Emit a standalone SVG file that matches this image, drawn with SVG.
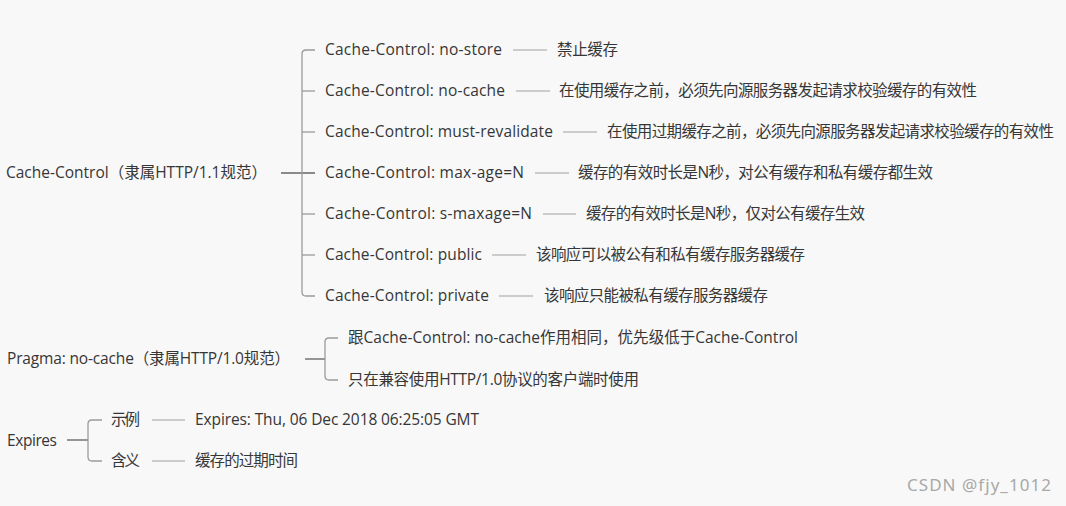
<svg xmlns="http://www.w3.org/2000/svg" width="1066" height="506" viewBox="0 0 1066 506">
<style>
text{font-family:"Open Sans","Noto Sans CJK SC",sans-serif;font-size:15.5px;fill:#363636;}
.wm{font-family:"Noto Sans","Open Sans",sans-serif;font-size:17px;fill:#a8a8a8;}
.br{fill:none;stroke:#9a9a9a;stroke-width:1.3;}
.dash{stroke:#a0a0a0;stroke-width:1;}
.main{stroke:#8a8a8a;stroke-width:1.8;}
</style>
<rect width="1066" height="506" fill="#f8f8f8"/>
<g id="connectors">
  <line class="main" x1="281" y1="173" x2="315" y2="173"/>
  <path class="br" d="M315 50 H306 Q302 50 302 54 V292 Q302 296 306 296 H315"/>
  <line class="br" x1="302" y1="91" x2="315" y2="91"/>
  <line class="br" x1="302" y1="132" x2="315" y2="132"/>
  <line class="br" x1="302" y1="214" x2="315" y2="214"/>
  <line class="br" x1="302" y1="255" x2="315" y2="255"/>
  <line class="dash" x1="513" y1="50" x2="547" y2="50"/>
  <line class="dash" x1="516" y1="91" x2="550" y2="91"/>
  <line class="dash" x1="563" y1="132" x2="597" y2="132"/>
  <line class="dash" x1="535" y1="173" x2="569" y2="173"/>
  <line class="dash" x1="543" y1="214" x2="576" y2="214"/>
  <line class="dash" x1="492" y1="255" x2="526" y2="255"/>
  <line class="dash" x1="499" y1="296" x2="533" y2="296"/>
  <line class="main" x1="305" y1="359" x2="325" y2="359"/>
  <path class="br" d="M338 338 H329 Q325 338 325 342 V376 Q325 380 329 380 H338"/>
  <line class="main" x1="67" y1="440" x2="88" y2="440"/>
  <path class="br" d="M102 420 H92 Q88 420 88 424 V457 Q88 461 92 461 H102"/>
  <line class="dash" x1="152" y1="420" x2="185" y2="420"/>
  <line class="dash" x1="152" y1="461" x2="185" y2="461"/>
</g>
<g id="cache-control"><text x="6" y="178" textLength="261">Cache-Control（隶属HTTP/1.1规范）</text></g>
<g id="cc-no-store"><text x="325" y="55" textLength="177">Cache-Control: no-store</text></g>
<g id="cc-no-store-desc"><text x="557" y="55" textLength="61">禁止缓存</text></g>
<g id="cc-no-cache"><text x="325" y="96" textLength="180">Cache-Control: no-cache</text></g>
<g id="cc-no-cache-desc"><text x="559" y="96" textLength="418">在使用缓存之前，必须先向源服务器发起请求校验缓存的有效性</text></g>
<g id="cc-must-revalidate"><text x="325" y="137" textLength="228">Cache-Control: must-revalidate</text></g>
<g id="cc-must-revalidate-desc"><text x="607" y="137" textLength="447">在使用过期缓存之前，必须先向源服务器发起请求校验缓存的有效性</text></g>
<g id="cc-max-age"><text x="325" y="178" textLength="199">Cache-Control: max-age=N</text></g>
<g id="cc-max-age-desc"><text x="578" y="178" textLength="355">缓存的有效时长是N秒，对公有缓存和私有缓存都生效</text></g>
<g id="cc-s-maxage"><text x="325" y="219" textLength="207">Cache-Control: s-maxage=N</text></g>
<g id="cc-s-maxage-desc"><text x="586" y="219" textLength="279">缓存的有效时长是N秒，仅对公有缓存生效</text></g>
<g id="cc-public"><text x="325" y="260" textLength="157">Cache-Control: public</text></g>
<g id="cc-public-desc"><text x="536" y="260" textLength="269">该响应可以被公有和私有缓存服务器缓存</text></g>
<g id="cc-private"><text x="325" y="301" textLength="164">Cache-Control: private</text></g>
<g id="cc-private-desc"><text x="544" y="301" textLength="224">该响应只能被私有缓存服务器缓存</text></g>
<g id="pragma"><text x="7" y="364" textLength="283">Pragma: no-cache（隶属HTTP/1.0规范）</text></g>
<g id="pragma-1"><text x="348" y="343" textLength="450">跟Cache-Control: no-cache作用相同，优先级低于Cache-Control</text></g>
<g id="pragma-2"><text x="348" y="385" textLength="291">只在兼容使用HTTP/1.0协议的客户端时使用</text></g>
<g id="expires"><text x="7" y="446" textLength="50">Expires</text></g>
<g id="expires-example"><text x="111" y="425" textLength="29">示例</text></g>
<g id="expires-example-value"><text x="195" y="425" textLength="284">Expires: Thu, 06 Dec 2018 06:25:05 GMT</text></g>
<g id="expires-meaning"><text x="111" y="466" textLength="29">含义</text></g>
<g id="expires-meaning-value"><text x="195" y="466" textLength="103">缓存的过期时间</text></g>
<text class="wm" x="907" y="491" textLength="144">CSDN @fjy_1012</text>
</svg>
